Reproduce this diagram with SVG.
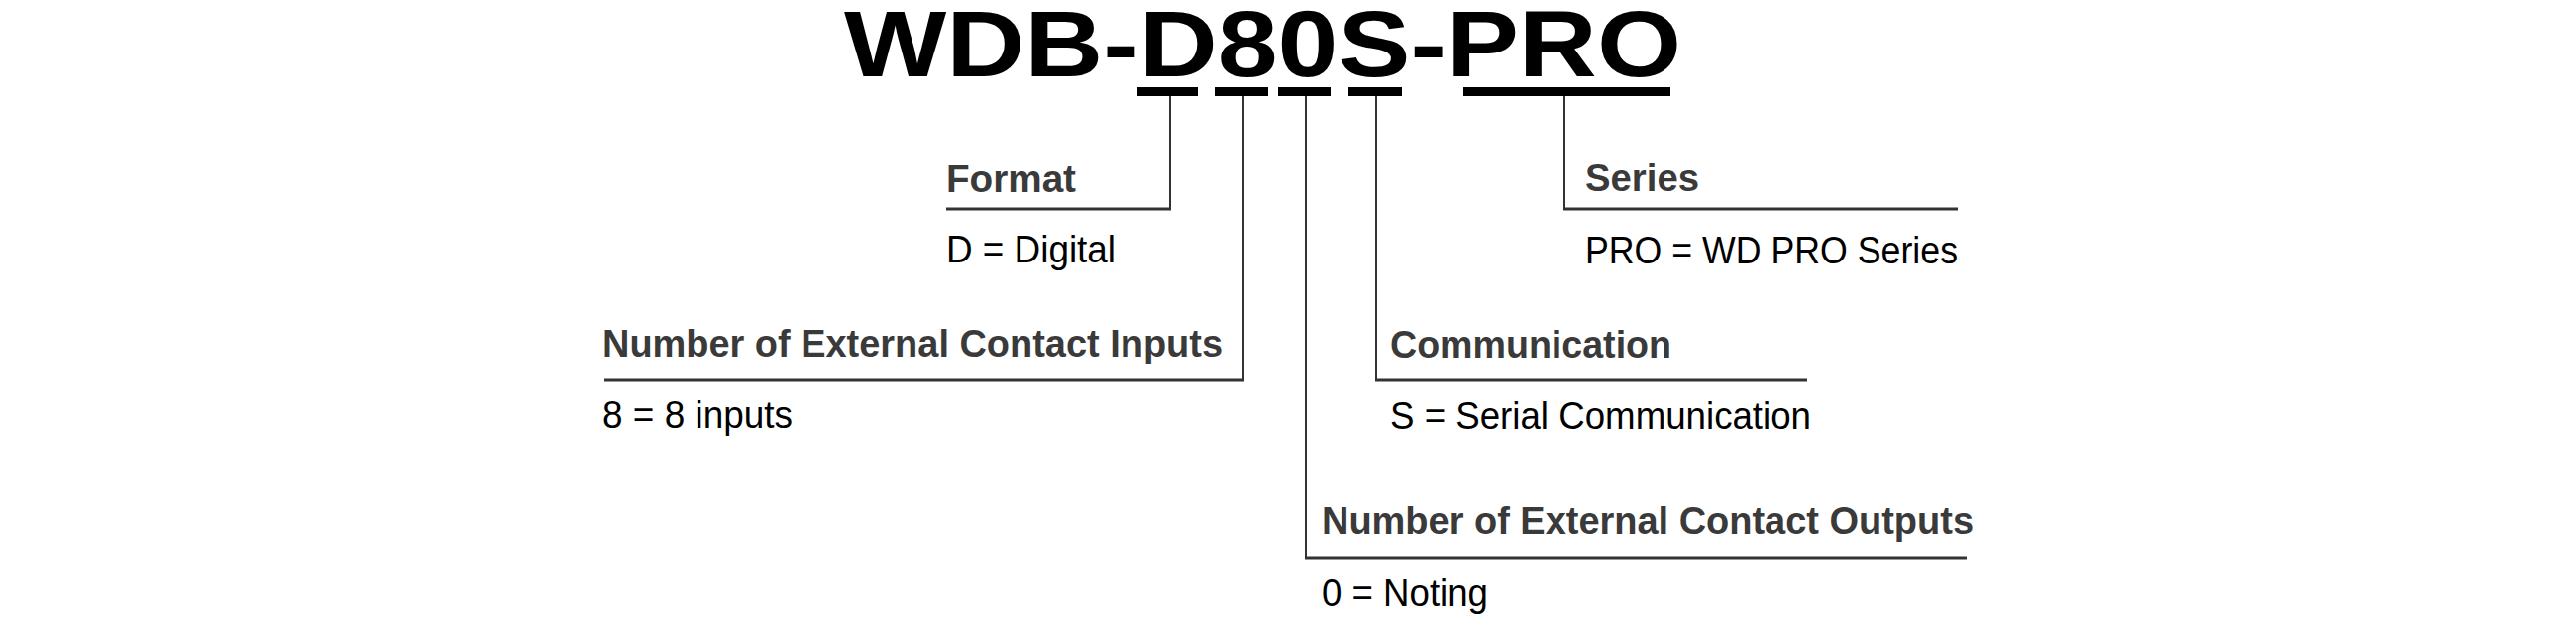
<svg xmlns="http://www.w3.org/2000/svg" width="2600" height="630" viewBox="0 0 2600 630">
<style>
.t{font-family:"Liberation Sans",Arial,sans-serif;font-weight:bold;font-size:94px;fill:#000}
.h{font-family:"Liberation Sans",Arial,sans-serif;font-weight:bold;font-size:38px;fill:#3a3a3a}
.b{font-family:"Liberation Sans",Arial,sans-serif;font-size:38px;fill:#000}
.bar{fill:#000}
.v{stroke:#333;stroke-width:2;fill:none}
.u{stroke:#333;stroke-width:3;fill:none}
</style>
<rect width="2600" height="630" fill="#fff"/>
<g id="title">
<text class="t" x="852" y="77" textLength="845" lengthAdjust="spacingAndGlyphs">WDB-D80S-PRO</text>
<rect class="bar" x="1148" y="88" width="61" height="9"/>
<rect class="bar" x="1226" y="88" width="54" height="9"/>
<rect class="bar" x="1290" y="88" width="53" height="9"/>
<rect class="bar" x="1361" y="88" width="54" height="9"/>
<rect class="bar" x="1477" y="88" width="209" height="9"/>
</g>
<g id="connectors">
<polyline class="v" points="1181,97 1181,211"/>
<line class="u" x1="955" y1="211" x2="1182" y2="211"/>
<polyline class="v" points="1255,97 1255,384"/>
<line class="u" x1="610" y1="384" x2="1256" y2="384"/>
<polyline class="v" points="1318,97 1318,563"/>
<line class="u" x1="1317" y1="563" x2="1985" y2="563"/>
<polyline class="v" points="1389,97 1389,384"/>
<line class="u" x1="1388" y1="384" x2="1824" y2="384"/>
<polyline class="v" points="1579,97 1579,211"/>
<line class="u" x1="1578" y1="211" x2="1976" y2="211"/>
</g>
<g id="format">
<text class="h" x="955" y="194" textLength="131" lengthAdjust="spacingAndGlyphs">Format</text>
<text class="b" x="955" y="265" textLength="171" lengthAdjust="spacingAndGlyphs">D = Digital</text>
</g>
<g id="inputs">
<text class="h" x="608" y="360" textLength="626" lengthAdjust="spacingAndGlyphs">Number of External Contact Inputs</text>
<text class="b" x="608" y="432" textLength="192" lengthAdjust="spacingAndGlyphs">8 = 8 inputs</text>
</g>
<g id="outputs">
<text class="h" x="1334" y="539" textLength="658" lengthAdjust="spacingAndGlyphs">Number of External Contact Outputs</text>
<text class="b" x="1334" y="612" textLength="168" lengthAdjust="spacingAndGlyphs">0 = Noting</text>
</g>
<g id="communication">
<text class="h" x="1403" y="361" textLength="284" lengthAdjust="spacingAndGlyphs">Communication</text>
<text class="b" x="1403" y="433" textLength="425" lengthAdjust="spacingAndGlyphs">S = Serial Communication</text>
</g>
<g id="series">
<text class="h" x="1600" y="193" textLength="115" lengthAdjust="spacingAndGlyphs">Series</text>
<text class="b" x="1600" y="266" textLength="376" lengthAdjust="spacingAndGlyphs">PRO = WD PRO Series</text>
</g>
</svg>
